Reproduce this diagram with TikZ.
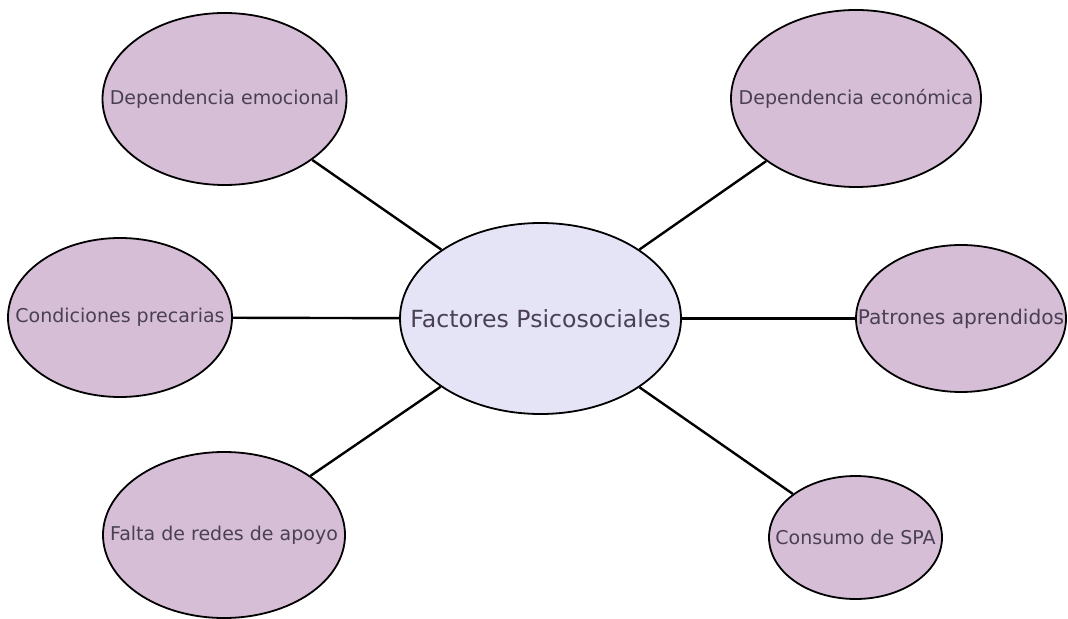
\documentclass[tikz,border=0pt]{standalone}
\usepackage{fontspec}
\setmainfont{DejaVu Sans}
\usetikzlibrary{shapes.geometric}
\definecolor{factorfill}{HTML}{D6BED6}
\definecolor{corefill}{HTML}{E4E4F6}
\definecolor{labeltext}{HTML}{4A4055}
\newcommand{\factorlabel}[1]{\makebox[0pt]{#1}}

\begin{document}
\begin{tikzpicture}[x=0.5pt, y=-0.5pt,
    factor/.style={ellipse, draw=black, line width=0.9pt, fill=factorfill, inner sep=0pt, text=labeltext, font=\fontsize{9.5}{11}\selectfont},
    corefactor/.style={factor, fill=corefill, font=\fontsize{11.8}{14}\selectfont},
    link/.style={line width=1.2pt, draw=black}]
    \useasboundingbox (0,0) rectangle (1068,619);

    \node (psico) [corefactor, minimum width=140.5pt, minimum height=95.5pt] at (540.5,318.5) {\factorlabel{Factores Psicosociales}};

    \node (emocional) [factor, minimum width=122pt, minimum height=86pt] at (224.5,99) {\factorlabel{Dependencia emocional}};
    \node (economica) [factor, minimum width=125pt, minimum height=88.5pt] at (856,98.5) {\factorlabel{Dependencia económica}};
    \node (precarias) [factor, minimum width=112pt, minimum height=79.5pt] at (120,317.5) {\factorlabel{Condiciones precarias}};
    \node (patrones) [factor, minimum width=105pt, minimum height=73.5pt, font=\fontsize{10.1}{12}\selectfont] at (961,318.5) {\factorlabel{Patrones aprendidos}};
    \node (redes) [factor, minimum width=121pt, minimum height=83pt] at (224,535) {\factorlabel{Falta de redes de apoyo}};
    \node (spa) [factor, minimum width=86.5pt, minimum height=61.5pt] at (855.5,537.5) {\factorlabel{Consumo de SPA}};

    \draw [link] (psico) -- (emocional);
    \draw [link] (psico) -- (economica);
    \draw [link] (psico) -- (precarias);
    \draw [link] (psico) -- (patrones);
    \draw [link] (psico) -- (redes);
    \draw [link] (psico) -- (spa);
\end{tikzpicture}
\end{document}
